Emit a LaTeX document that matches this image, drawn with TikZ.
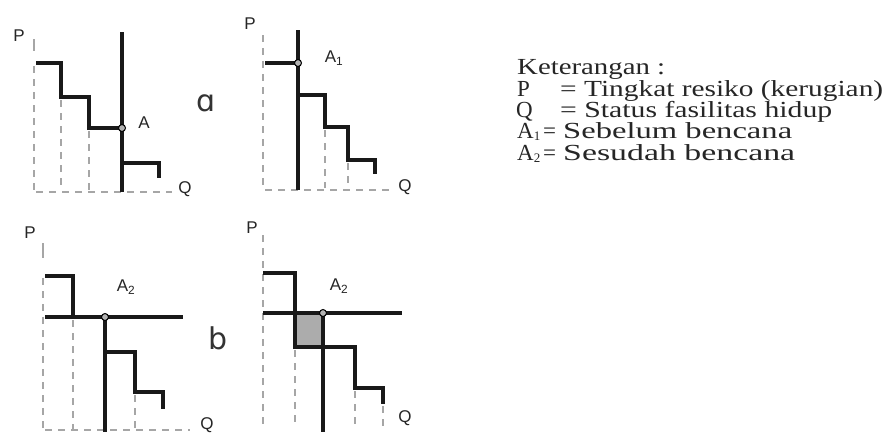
\documentclass[tikz,border=0pt]{standalone}
\usepackage{fontspec}
\usepackage{graphicx}
\setmainfont{Liberation Serif}
\newfontfamily\lsans{Liberation Sans}
\newfontfamily\dvs{DejaVu Sans}
\newlength\hfitlen
\newcommand\hfit[2]{\settowidth\hfitlen{#2}\scalebox{\fpeval{#1/\hfitlen}}[1]{#2}}
\newcommand\lsub[1]{{\fontsize{13}{13}\selectfont\raisebox{-2pt}{#1}}}
\tikzset{
 thk/.style={line width=4.8pt, black!90, line join=miter, line cap=butt},
 dsh/.style={line width=1.4pt, gray!70, dash pattern=on 7pt off 6pt},
 tick/.style={line width=1.4pt, gray!70},
 lbl/.style={font=\lsans\fontsize{17}{20}\selectfont, inner sep=0pt, text=black!85},
 big/.style={font=\dvs\fontsize{30}{34}\selectfont, inner sep=0pt, text=black!80},
 leg/.style={font=\fontsize{23}{26}\selectfont, inner sep=0pt, anchor=base west,
   text=black!85, text height=15pt, text depth=3pt},
 ipt/.style={circle, draw=black, fill=gray!60, line width=1pt, inner sep=0pt, minimum size=7pt},
}
\begin{document}
\begin{tikzpicture}[x=1pt,y=-1pt]
\useasboundingbox[fill=white] (0,0) rectangle (888,432);
% ---------- panel 1 ----------
\draw[tick] (34,39) -- (34,51);
\draw[dsh] (34,66) -- (34,190);
\draw[dsh] (61,100) -- (61,190);
\draw[dsh] (89,131) -- (89,190);
\draw[dsh] (36,192) -- (172,192);
\draw[thk] (36,63) -| (61,97) -| (89,128) -- (122,128);
\draw[thk] (122,32) -- (122,192);
\draw[thk] (122,163) -| (159,178);
\node[ipt] (i1) at (122,128) {};
\node[lbl] (P1) at (19,36) {P};
\node[lbl] (A1l) at (144,123) {A};
\node[big] (la) at (206,103) {ɑ};
\node[lbl] (Q1) at (185,189) {Q};
% ---------- panel 2 ----------
\draw[dsh] (263,35) -- (263,188);
\draw[dsh] (325,130) -- (325,188);
\draw[dsh] (348,163) -- (348,188);
\draw[dsh] (265,190) -- (392,190);
\draw[thk] (265,63) -- (298,63);
\draw[thk] (298,30) -- (298,190);
\draw[thk] (298,95) -| (325,127) -| (348,160) -| (375,174);
\node[ipt] (i2) at (298,63) {};
\node[lbl] (P2) at (250,24) {P};
\node[lbl] (A2l) at (334,58) {A\textsubscript{1}};
\node[lbl] (Q2) at (405,187) {Q};
% ---------- panel 3 ----------
\draw[tick] (43,243) -- (43,258);
\draw[dsh] (43,278) -- (43,430);
\draw[dsh] (73,320) -- (73,430);
\draw[dsh] (135,395) -- (135,430);
\draw[dsh] (45,430) -- (190,430);
\draw[thk] (45,276) -| (73,317);
\draw[thk] (45,317) -- (183,317);
\draw[thk] (105,317) -- (105,432);
\draw[thk] (105,352) -| (135,392) -| (163,409);
\node[ipt] (i3) at (105,317) {};
\node[lbl] (P3) at (30,233) {P};
\node[lbl] (A3l) at (126,287) {A\textsubscript{2}};
\node[big] (lb) at (218,338) {b};
\node[lbl] (Q3) at (207,425) {Q};
% ---------- panel 4 ----------
\draw[dsh] (263,235) -- (263,428);
\draw[dsh] (295,350) -- (295,428);
\draw[dsh] (355,391) -- (355,428);
\draw[dsh] (383,406) -- (383,428);
\fill[gray!65] (295,313) rectangle (323,347);
\draw[thk] (263,273) -| (295,347) -| (355,388) -| (383,404);
\draw[thk] (263,313) -- (402,313);
\draw[thk] (323,313) -- (323,432);
\node[ipt] (i4) at (323,313) {};
\node[lbl] (P4) at (252,228) {P};
\node[lbl] (A4l) at (339,286) {A\textsubscript{2}};
\node[lbl] (Q4) at (405,418) {Q};
% ---------- legend ----------
\node[leg] (k0) at (517,74) {\hfit{148}{Keterangan :}};
\node[leg] (k1a) at (517,96) {P};
\node[leg] (k1b) at (560,96) {\hfit{323}{= Tingkat resiko (kerugian)}};
\node[leg] (k2a) at (516,117) {Q};
\node[leg] (k2b) at (560,117) {\hfit{272}{= Status fasilitas hidup}};
\node[leg] (k3a) at (517,138) {A\lsub{1}};
\node[leg] (k3b) at (543,138) {=};
\node[leg] (k3c) at (563,138) {\hfit{229}{Sebelum bencana}};
\node[leg] (k4a) at (517,160) {A\lsub{2}};
\node[leg] (k4b) at (543,160) {=};
\node[leg] (k4c) at (563,160) {\hfit{232}{Sesudah bencana}};
\end{tikzpicture}
\end{document}
